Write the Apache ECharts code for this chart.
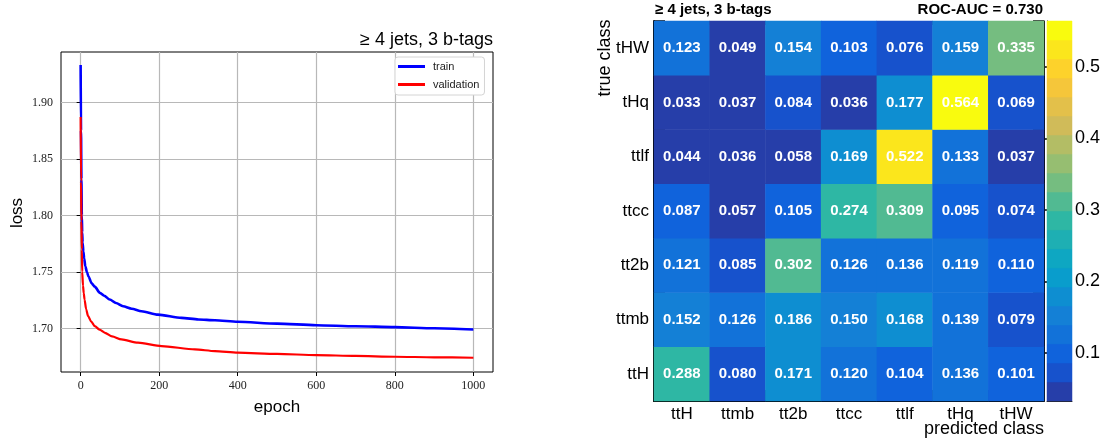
<!DOCTYPE html>
<html>
<head>
<meta charset="utf-8">
<script src="https://cdn.jsdelivr.net/npm/echarts@6/dist/echarts.min.js"></script>
<style>
  html, body { margin: 0; padding: 0; background: #fff; }
  #chart { width: 1105px; height: 445px; }
</style>
</head>
<body>
<div id="chart"></div>
<script>
// ---- training history ----
const trainEpochs = [0, 1, 2, 3, 4, 5, 7, 9, 12, 16, 20, 28, 36, 49, 60, 74, 90, 108, 130, 155, 197, 257, 300, 342, 400, 500, 600, 700, 800, 900, 1000];
const trainLoss = [1.933, 1.875, 1.832, 1.800, 1.785, 1.776, 1.768, 1.762, 1.755, 1.750, 1.746, 1.740, 1.737, 1.7315, 1.729, 1.7256, 1.7225, 1.7197, 1.7175, 1.7153, 1.7123, 1.7094, 1.7080, 1.7073, 1.7059, 1.7043, 1.7029, 1.7020, 1.7012, 1.7002, 1.6991];
const valEpochs = [0, 1, 2, 3, 4, 6, 8, 10, 14, 19, 27, 36, 48, 62, 80, 104, 146, 206, 291, 342, 400, 500, 600, 700, 800, 900, 1000];
const valLoss = [1.887, 1.830, 1.795, 1.770, 1.750, 1.738, 1.731, 1.7256, 1.717, 1.7109, 1.706, 1.7021, 1.699, 1.6962, 1.693, 1.6903, 1.6874, 1.6844, 1.6815, 1.6800, 1.6786, 1.6775, 1.6765, 1.6757, 1.6750, 1.6745, 1.6741];
const epochTicks = [0, 200, 400, 600, 800, 1000];
const lossTicks = [1.70, 1.75, 1.80, 1.85, 1.90];

// ---- confusion matrix (rows: true class, columns: predicted class) ----
const classes = ['ttH', 'ttmb', 'tt2b', 'ttcc', 'ttlf', 'tHq', 'tHW'];
const rowTtH  = [0.288, 0.080, 0.171, 0.120, 0.104, 0.136, 0.101];
const rowTtmb = [0.152, 0.126, 0.186, 0.150, 0.168, 0.139, 0.079];
const rowTt2b = [0.121, 0.085, 0.302, 0.126, 0.136, 0.119, 0.110];
const rowTtcc = [0.087, 0.057, 0.105, 0.274, 0.309, 0.095, 0.074];
const rowTtlf = [0.044, 0.036, 0.058, 0.169, 0.522, 0.133, 0.037];
const rowTHq  = [0.033, 0.037, 0.084, 0.036, 0.177, 0.564, 0.069];
const rowTHW  = [0.123, 0.049, 0.154, 0.103, 0.076, 0.159, 0.335];
const colorbarTicks = [0.1, 0.2, 0.3, 0.4, 0.5];
const rocAuc = '0.730';
const categoryTitle = '\u2265 4 jets, 3 b-tags';

// ---- styling ----
const SANS = 'Liberation Sans';
const SERIF = 'Liberation Serif';
// 20-step "bird" palette, low to high
const palette = ['#263ea9', '#1752cc', '#1063dc', '#1272d9', '#1480d6', '#0e8ed1', '#099dcc', '#0ea7c2', '#1eafb3', '#2eb7a4',
                 '#51ba92', '#75bd80', '#96be71', '#b3bd65', '#d0bb59', '#e3c04a', '#f5c63a', '#fdd22b', '#fbe61c', '#f9fb0e'];

const matrixRows = [rowTtH, rowTtmb, rowTt2b, rowTtcc, rowTtlf, rowTHq, rowTHW];
const heatData = [];
matrixRows.forEach((row, y) => row.forEach((v, x) => heatData.push([x, y, v])));
const allVals = heatData.map(d => d[2]);
const zMin = Math.min(...allVals), zMax = Math.max(...allVals);
const nBands = palette.length;
const step = (zMax - zMin) / nBands;
const bands = palette.map((c, i) => [zMin + i * step, i === nBands - 1 ? zMax : zMin + (i + 1) * step, i]);
const pieces = bands.map((b, i) => i === nBands - 1
  ? { gte: b[0] - 1e-9, lte: b[1] + 1e-9, color: palette[i] }
  : { gte: b[0] - (i === 0 ? 1e-9 : 0), lt: b[1], color: palette[i] });

const chart = echarts.init(document.getElementById('chart'), null, { renderer: 'canvas' });

const option = {
  animation: false,
  backgroundColor: '#fff',
  textStyle: { fontFamily: SANS },
  grid: [
    { left: 61, top: 52, width: 432, height: 320, show: true, borderColor: '#000', borderWidth: 1, backgroundColor: '#fff', outerBoundsMode: 'none' },
    { left: 654, top: 21, width: 390, height: 380, outerBoundsMode: 'none' },
    { left: 1047, top: 21, width: 25, height: 380, outerBoundsMode: 'none' }
  ],
  xAxis: [
    {
      type: 'value', gridIndex: 0, min: -50, max: 1050,
      axisLine: { show: false },
      axisTick: { show: true, length: 4, lineStyle: { color: '#000' }, customValues: epochTicks },
      axisLabel: { customValues: epochTicks, margin: 8, fontFamily: SERIF, fontSize: 12, color: '#222', formatter: v => String(v) },
      splitLine: { show: true, lineStyle: { color: '#b8b8b8', width: 1.2 } }
    },
    {
      type: 'category', gridIndex: 1, data: classes, position: 'bottom',
      axisLine: { show: true, lineStyle: { color: '#000', width: 2 } },
      axisTick: { show: true, inside: true, length: 11, lineStyle: { color: '#000', width: 1.5 } },
      axisLabel: { margin: 5, fontSize: 17, color: '#000', fontFamily: SANS },
      splitLine: { show: false }
    },
    {
      type: 'category', gridIndex: 1, data: classes, position: 'top',
      axisLine: { show: true, lineStyle: { color: '#000', width: 1 } },
      axisTick: { show: true, inside: true, length: 4, lineStyle: { color: '#000', width: 1.5 } },
      axisLabel: { show: false },
      splitLine: { show: false }
    },
    {
      type: 'value', gridIndex: 2, min: 0, max: 1,
      axisLine: { show: true, lineStyle: { color: '#222', width: 1 } },
      axisTick: { show: false }, axisLabel: { show: false }, splitLine: { show: false }
    }
  ],
  yAxis: [
    {
      type: 'value', gridIndex: 0, min: 1.6615, max: 1.9446,
      axisLine: { show: false },
      axisTick: { show: true, length: 4, lineStyle: { color: '#000' }, customValues: lossTicks },
      axisLabel: { customValues: lossTicks, margin: 8, fontFamily: SERIF, fontSize: 12, color: '#222', formatter: v => v.toFixed(2) },
      splitLine: { show: true, lineStyle: { color: '#b8b8b8', width: 1.2 } }
    },
    {
      type: 'category', gridIndex: 1, data: classes, position: 'left',
      axisLine: { show: true, lineStyle: { color: '#000', width: 2 } },
      axisTick: { show: true, inside: true, length: 11, lineStyle: { color: '#000', width: 1.5 } },
      axisLabel: { margin: 5, fontSize: 17, color: '#000', fontFamily: SANS },
      splitLine: { show: false }
    },
    {
      type: 'category', gridIndex: 1, data: classes, position: 'right',
      axisLine: { show: true, lineStyle: { color: '#000', width: 1 } },
      axisTick: { show: true, inside: true, length: 11, lineStyle: { color: '#000', width: 1.5 } },
      axisLabel: { show: false },
      splitLine: { show: false }
    },
    {
      type: 'value', gridIndex: 2, min: zMin, max: zMax, position: 'right',
      axisLine: { show: true, lineStyle: { color: '#000', width: 1 } },
      axisTick: { show: true, inside: true, length: 10, lineStyle: { color: '#000', width: 1.5 }, customValues: colorbarTicks },
      axisLabel: { customValues: colorbarTicks, margin: 3, fontSize: 18, color: '#000', fontFamily: SANS, formatter: v => String(v) },
      splitLine: { show: false }
    }
  ],
  legend: {
    left: 395, top: 57, orient: 'vertical',
    padding: [3, 5, 4, 3], itemGap: 5,
    itemWidth: 27, itemHeight: 3, icon: 'rect',
    backgroundColor: '#fff', borderColor: '#d4d4d4', borderWidth: 1, borderRadius: 3,
    textStyle: { fontSize: 11, color: '#222', fontFamily: SANS, lineHeight: 13, padding: [0, 0, 0, 3] },
    data: ['train', 'validation']
  },
  visualMap: {
    type: 'piecewise', show: false, seriesIndex: 2, dimension: 2, pieces: pieces
  },
  series: [
    {
      name: 'train', type: 'line', xAxisIndex: 0, yAxisIndex: 0,
      data: trainEpochs.map((e, i) => [e, trainLoss[i]]),
      showSymbol: false, symbol: 'none', smooth: 0.25, smoothMonotone: 'x',
      lineStyle: { color: '#0000ff', width: 2.6 }, itemStyle: { color: '#0000ff' }, z: 3
    },
    {
      name: 'validation', type: 'line', xAxisIndex: 0, yAxisIndex: 0,
      data: valEpochs.map((e, i) => [e, valLoss[i]]),
      showSymbol: false, symbol: 'none', smooth: 0.25, smoothMonotone: 'x',
      lineStyle: { color: '#ff0000', width: 2.2 }, itemStyle: { color: '#ff0000' }, z: 4
    },
    {
      type: 'heatmap', xAxisIndex: 1, yAxisIndex: 1,
      data: heatData,
      label: {
        show: true, color: '#fff', fontWeight: 'bold', fontSize: 15, fontFamily: SANS,
        formatter: p => p.value[2].toFixed(3)
      },
      emphasis: { disabled: true }
    },
    {
      type: 'custom', xAxisIndex: 3, yAxisIndex: 3,
      data: bands,
      renderItem: (params, api) => {
        const a = api.coord([0, api.value(0)]);
        const b = api.coord([1, api.value(1)]);
        const c = palette[api.value(2)];
        return {
          type: 'rect',
          shape: { x: a[0], y: b[1], width: b[0] - a[0], height: a[1] - b[1] },
          style: { fill: c, stroke: c, lineWidth: 0.5 }
        };
      },
      silent: true, z: 1
    }
  ],
  graphic: [
    { type: 'text', x: 493, y: 40, style: { text: categoryTitle, align: 'right', verticalAlign: 'middle', font: '18px "Liberation Sans"', fill: '#000' } },
    { type: 'text', x: 17, y: 213, rotation: Math.PI / 2, style: { text: 'loss', align: 'center', verticalAlign: 'middle', font: '17px "Liberation Sans"', fill: '#000' } },
    { type: 'text', x: 277, y: 407, style: { text: 'epoch', align: 'center', verticalAlign: 'middle', font: '17px "Liberation Sans"', fill: '#000' } },
    { type: 'text', x: 655, y: 10, style: { text: categoryTitle, align: 'left', verticalAlign: 'middle', font: 'bold 15px "Liberation Sans"', fill: '#000' } },
    { type: 'text', x: 1043, y: 10, style: { text: 'ROC-AUC = ' + rocAuc, align: 'right', verticalAlign: 'middle', font: 'bold 15px "Liberation Sans"', fill: '#000' } },
    { type: 'text', x: 605, y: 58, rotation: Math.PI / 2, style: { text: 'true class', align: 'center', verticalAlign: 'middle', font: '18px "Liberation Sans"', fill: '#000' } },
    { type: 'text', x: 1044, y: 429, style: { text: 'predicted class', align: 'right', verticalAlign: 'middle', font: '18px "Liberation Sans"', fill: '#000' } }
  ]
};

chart.setOption(option);
</script>
</body>
</html>
